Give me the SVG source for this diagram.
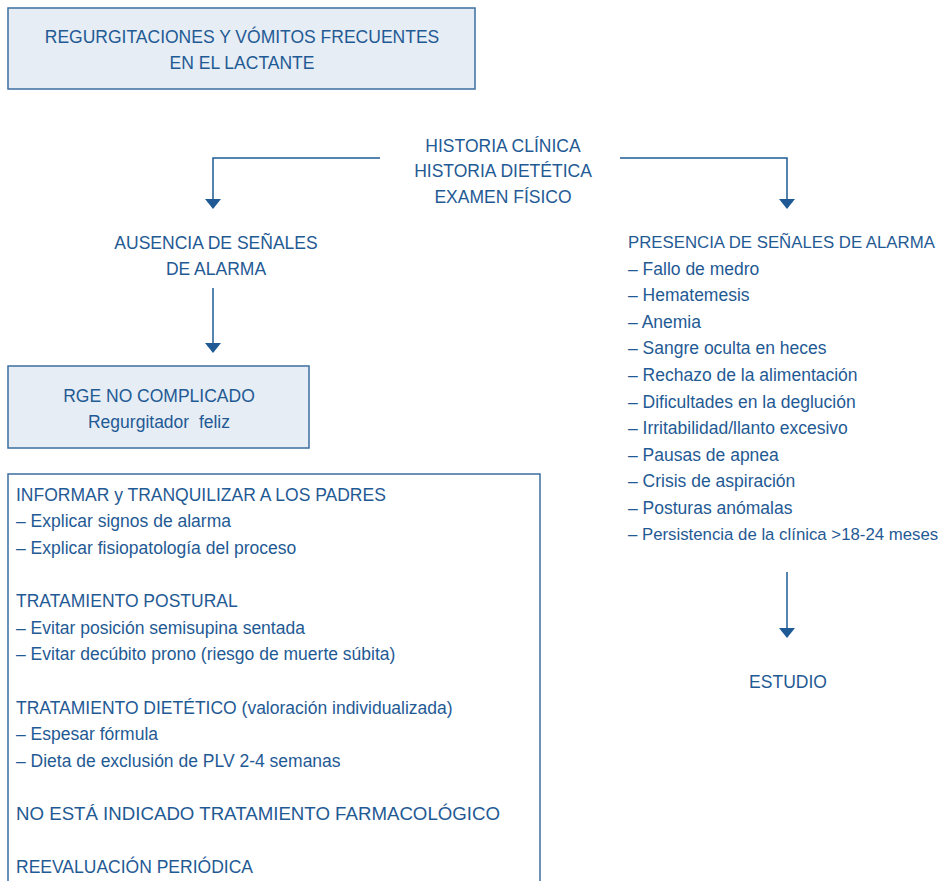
<svg xmlns="http://www.w3.org/2000/svg" width="945" height="881" viewBox="0 0 945 881">
<defs>
<style>
.t{font-family:"Liberation Sans",Arial,sans-serif;font-size:17.5px;fill:#1f5a94}
.c{text-anchor:middle}
.s{font-size:16.8px}
.box{fill:#e6edf5;stroke:#3d6e9f;stroke-width:1.5}
.wbox{fill:#ffffff;stroke:#3d6e9f;stroke-width:1.5}
.ln{fill:none;stroke:#1f5a94;stroke-width:1.5}
.hd{fill:#1f5a94}
</style>
</defs>
<rect width="945" height="881" fill="#ffffff"/>
<g id="connectors">
<path class="ln" d="M380,158 H213 V199"/>
<path class="hd" d="M205,199 L221,199 L213,209 Z"/>
<path class="ln" d="M620,158 H787 V199"/>
<path class="hd" d="M779,199 L795,199 L787,209 Z"/>
<path class="ln" d="M213,288 V343"/>
<path class="hd" d="M205,343 L221,343 L213,353 Z"/>
<path class="ln" d="M787,572 V628"/>
<path class="hd" d="M779,628 L795,628 L787,638 Z"/>
</g>
<g id="n-top">
<rect class="box" x="8" y="8" width="467" height="81"/>
<text class="t c" x="242" y="43">REGURGITACIONES Y VÓMITOS FRECUENTES</text>
<text class="t c" x="242" y="69">EN EL LACTANTE</text>
</g>
<g id="n-historia">
<text class="t c" x="503" y="152">HISTORIA CLÍNICA</text>
<text class="t c" x="503" y="177">HISTORIA DIETÉTICA</text>
<text class="t c" x="503" y="203">EXAMEN FÍSICO</text>
</g>
<g id="n-ausencia">
<text class="t c" x="216" y="249">AUSENCIA DE SEÑALES</text>
<text class="t c" x="216" y="275">DE ALARMA</text>
</g>
<g id="n-rge">
<rect class="box" x="8" y="366" width="301" height="82"/>
<text class="t c" x="159" y="402">RGE NO COMPLICADO</text>
<text class="t c" x="159" y="428" xml:space="preserve">Regurgitador  feliz</text>
</g>
<g id="n-manejo">
<rect class="wbox" x="8" y="474" width="532" height="430"/>
<text class="t" x="16" y="501">INFORMAR y TRANQUILIZAR A LOS PADRES</text>
<text class="t" x="16" y="527">– Explicar signos de alarma</text>
<text class="t" x="16" y="554">– Explicar fisiopatología del proceso</text>
<text class="t" x="16" y="607">TRATAMIENTO POSTURAL</text>
<text class="t" x="16" y="634">– Evitar posición semisupina sentada</text>
<text class="t" x="16" y="660">– Evitar decúbito prono (riesgo de muerte súbita)</text>
<text class="t" x="16" y="714">TRATAMIENTO DIETÉTICO (valoración individualizada)</text>
<text class="t" x="16" y="740">– Espesar fórmula</text>
<text class="t" x="16" y="767">– Dieta de exclusión de PLV 2-4 semanas</text>
<text class="t" x="16" y="820" textLength="484" lengthAdjust="spacingAndGlyphs">NO ESTÁ INDICADO TRATAMIENTO FARMACOLÓGICO</text>
<text class="t" x="16" y="873">REEVALUACIÓN PERIÓDICA</text>
</g>
<g id="n-presencia">
<text class="t s" x="628" y="248">PRESENCIA DE SEÑALES DE ALARMA</text>
<text class="t" x="628" y="275">– Fallo de medro</text>
<text class="t" x="628" y="301">– Hematemesis</text>
<text class="t" x="628" y="328">– Anemia</text>
<text class="t" x="628" y="354">– Sangre oculta en heces</text>
<text class="t" x="628" y="381">– Rechazo de la alimentación</text>
<text class="t" x="628" y="408">– Dificultades en la deglución</text>
<text class="t" x="628" y="434">– Irritabilidad/llanto excesivo</text>
<text class="t" x="628" y="461">– Pausas de apnea</text>
<text class="t" x="628" y="487">– Crisis de aspiración</text>
<text class="t" x="628" y="514">– Posturas anómalas</text>
<text class="t s" x="628" y="540">– Persistencia de la clínica &gt;18-24 meses</text>
</g>
<g id="n-estudio">
<text class="t c" x="788" y="688">ESTUDIO</text>
</g>
</svg>
